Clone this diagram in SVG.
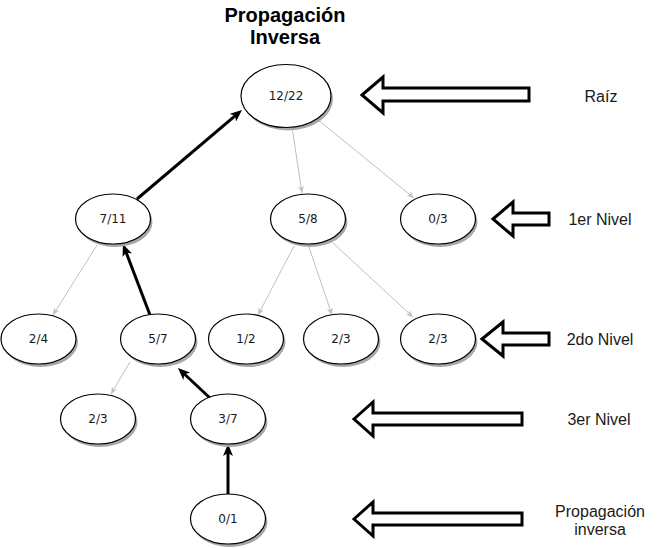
<svg xmlns="http://www.w3.org/2000/svg" width="671" height="548" viewBox="0 0 671 548">
<defs>
<style>
.node ellipse.bg{fill:#ffffff;stroke:#000000;stroke-width:1.2}
.node ellipse.sh{fill:#a8a8a8;stroke:none}
.node text{font-family:"DejaVu Sans",Verdana,sans-serif;font-size:12px;fill:#1a1a1a;text-anchor:middle}
.thin{fill:none;stroke:#c0c0c0;stroke-width:1;marker-end:url(#ga)}
.thick{fill:none;stroke:#000000;stroke-width:3;marker-end:url(#ba)}
.block{fill:#ffffff;stroke:#000000;stroke-width:3;stroke-linejoin:miter}
.lbl{font-family:"Liberation Sans",Arial,sans-serif;font-size:16px;fill:#1a1a1a;text-anchor:middle}
.title{font-family:"Liberation Sans",Arial,sans-serif;font-size:20px;font-weight:bold;fill:#000000;text-anchor:middle}
</style>
<marker id="ga" viewBox="0 0 7 6" refX="7" refY="3" markerWidth="7" markerHeight="6" markerUnits="userSpaceOnUse" orient="auto">
<path d="M0,0 L7,3 L0,6 L2,3 z" fill="#c0c0c0"/>
</marker>
<marker id="ba" viewBox="0 0 12 10" refX="4" refY="5" markerWidth="12" markerHeight="10" markerUnits="userSpaceOnUse" orient="auto">
<path d="M0,0 L12,5 L0,10 L3,5 z" fill="#000000"/>
</marker>
</defs>
<rect width="671" height="548" fill="#ffffff"/>

<g id="title">
<text class="title" x="285" y="22">Propagación</text>
<text class="title" x="285" y="43.5">Inversa</text>
</g>

<g id="connectors">
<path class="thin" d="M292,127 L302,193"/>
<path class="thin" d="M317,119 L414,198"/>
<path class="thin" d="M97,245 L53,315"/>
<path class="thin" d="M294,246 L258,315"/>
<path class="thin" d="M309,247 L332,315"/>
<path class="thin" d="M333,243 L413,317"/>
<path class="thin" d="M130,362 L111,394"/>
<path class="thick" d="M137,199 L235.9,115.2"/>
<path class="thick" d="M150,315 L125.8,251.5"/>
<path class="thick" d="M210,398 L183.8,373.5"/>
<path class="thick" d="M228,494 L228,452"/>
</g>

<g id="n-root" class="node"><ellipse class="sh" cx="288" cy="99" rx="45" ry="31.5"/><ellipse class="bg" cx="286" cy="96" rx="45" ry="31.5"/><text x="286" y="100">12/22</text></g>
<g id="n-7-11" class="node"><ellipse class="sh" cx="115" cy="222" rx="37.5" ry="25"/><ellipse class="bg" cx="113" cy="219" rx="37.5" ry="25"/><text x="113" y="223">7/11</text></g>
<g id="n-5-8" class="node"><ellipse class="sh" cx="310" cy="222" rx="37.5" ry="25"/><ellipse class="bg" cx="308" cy="219" rx="37.5" ry="25"/><text x="308" y="223">5/8</text></g>
<g id="n-0-3" class="node"><ellipse class="sh" cx="440" cy="222" rx="37.5" ry="25"/><ellipse class="bg" cx="438" cy="219" rx="37.5" ry="25"/><text x="438" y="223">0/3</text></g>
<g id="n-2-4" class="node"><ellipse class="sh" cx="40.5" cy="342" rx="37.5" ry="25"/><ellipse class="bg" cx="38.5" cy="339" rx="37.5" ry="25"/><text x="38.5" y="343">2/4</text></g>
<g id="n-5-7" class="node"><ellipse class="sh" cx="160" cy="342" rx="37.5" ry="25"/><ellipse class="bg" cx="158" cy="339" rx="37.5" ry="25"/><text x="158" y="343">5/7</text></g>
<g id="n-1-2" class="node"><ellipse class="sh" cx="248" cy="342" rx="37.5" ry="25"/><ellipse class="bg" cx="246" cy="339" rx="37.5" ry="25"/><text x="246" y="343">1/2</text></g>
<g id="n-2-3-a" class="node"><ellipse class="sh" cx="343" cy="342" rx="37.5" ry="25"/><ellipse class="bg" cx="341" cy="339" rx="37.5" ry="25"/><text x="341" y="343">2/3</text></g>
<g id="n-2-3-b" class="node"><ellipse class="sh" cx="440" cy="342" rx="37.5" ry="25"/><ellipse class="bg" cx="438" cy="339" rx="37.5" ry="25"/><text x="438" y="343">2/3</text></g>
<g id="n-2-3-c" class="node"><ellipse class="sh" cx="100" cy="422" rx="37.5" ry="25"/><ellipse class="bg" cx="98" cy="419" rx="37.5" ry="25"/><text x="98" y="423">2/3</text></g>
<g id="n-3-7" class="node"><ellipse class="sh" cx="230" cy="422" rx="37.5" ry="25"/><ellipse class="bg" cx="228" cy="419" rx="37.5" ry="25"/><text x="228" y="423">3/7</text></g>
<g id="n-0-1" class="node"><ellipse class="sh" cx="230" cy="522" rx="37.5" ry="25"/><ellipse class="bg" cx="228" cy="519" rx="37.5" ry="25"/><text x="228" y="523">0/1</text></g>

<g id="arrow-raiz"><path class="block" d="M362,95 L383,77 L383,88 L529,88 L529,101 L383,101 L383,113 Z"/></g>
<g id="arrow-1er"><path class="block" d="M493,219 L513,202 L513,213 L549,213 L549,225 L513,225 L513,236 Z"/></g>
<g id="arrow-2do"><path class="block" d="M482,339 L503,322 L503,333 L549,333 L549,345 L503,345 L503,356 Z"/></g>
<g id="arrow-3er"><path class="block" d="M354,419 L373,402 L373,413 L522,413 L522,425 L373,425 L373,436 Z"/></g>
<g id="arrow-prop"><path class="block" d="M354,519 L373,502 L373,513 L522,513 L522,525 L373,525 L373,536 Z"/></g>

<g id="labels">
<text class="lbl" x="601" y="102">Raíz</text>
<text class="lbl" x="600" y="225">1er Nivel</text>
<text class="lbl" x="600" y="345">2do Nivel</text>
<text class="lbl" x="599" y="425">3er Nivel</text>
<text class="lbl" x="600" y="516.5">Propagación</text>
<text class="lbl" x="600" y="535">inversa</text>
</g>
</svg>
